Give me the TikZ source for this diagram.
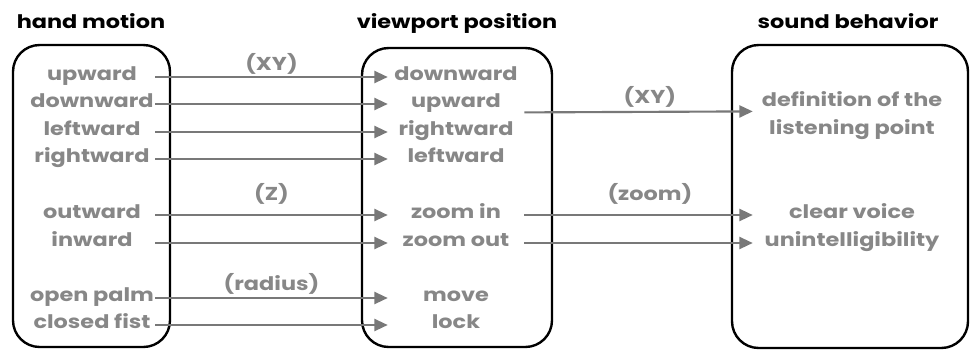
\documentclass[tikz,border=0pt]{standalone}
\usepackage{fontspec}
\setmainfont{Poppins}[FakeStretch=1.2]
\usetikzlibrary{arrows.meta,calc}
\definecolor{txtgray}{HTML}{878787}
\definecolor{arrgray}{HTML}{787878}
\tikzset{
  box/.style={draw=black, line width=1.8pt, rounded corners=20pt, inner sep=0pt},
  ttl/.style={font=\bfseries\fontsize{14}{16}\selectfont, text=black, anchor=base, inner sep=0pt},
  itm/.style={font=\bfseries\fontsize{14}{16}\selectfont, text=txtgray, inner sep=0pt, text height=4.5pt, text depth=0pt},
  lft/.style={itm, minimum width=94.5pt},
  mid/.style={itm, minimum width=102pt},
  rgt/.style={itm, minimum width=148.5pt},
  lab/.style={font=\bfseries\fontsize{14}{16}\selectfont, text=txtgray, anchor=base, inner sep=0pt},
  arr/.style={draw=arrgray, line width=1.6pt, -{Triangle[length=10pt,width=9pt]}},
}
\begin{document}
\begin{tikzpicture}[x=0.75pt,y=-0.75pt]
\useasboundingbox (0,0) rectangle (973,351);
% boxes
\node[box, minimum width=117.75pt, minimum height=226.5pt] (b1) at (91.5,196) {};
\node[box, minimum width=142.5pt, minimum height=224.25pt] (b2) at (457,197.5) {};
\node[box, minimum width=177pt, minimum height=227.25pt] (b3) at (850,196.5) {};
% titles
\node[ttl] (t1) at (91,28) {hand motion};
\node[ttl] (t2) at (457,28) {viewport position};
\node[ttl] (t3) at (848,28) {sound behavior};
% left items
\node[lft] (h1) at (92,77) {upward};
\node[lft] (h2) at (92,104) {downward};
\node[lft] (h3) at (92,132) {leftward};
\node[lft] (h4) at (92,159) {rightward};
\node[lft] (h5) at (92,215) {outward};
\node[lft] (h6) at (92,243) {inward};
\node[lft] (h7) at (92,298) {open palm};
\node[lft] (h8) at (92,325) {closed fist};
% middle items
\node[mid] (v1) at (456,77) {downward};
\node[mid] (v2) at (456,104) {upward};
\node[mid] (v3) at (456,132) {rightward};
\node[mid] (v4) at (456,159) {leftward};
\node[mid] (v5) at (456,215) {zoom in};
\node[mid] (v6) at (456,243) {zoom out};
\node[mid] (v7) at (456,298) {move};
\node[mid] (v8) at (456,325) {lock};
% right items
\node[rgt] (s1) at (852,103) {definition of the};
\node[rgt] (s2) at (852,131) {listening point};
\node[rgt] (s3) at (852,215) {clear voice};
\node[rgt] (s4) at (852,243) {unintelligibility};
% arrows
\draw[arr] (h1.east) -- node[lab, yshift=5.25pt] {(XY)} (v1.west);
\draw[arr] (h2.east) -- (v2.west);
\draw[arr] (h3.east) -- (v3.west);
\draw[arr] (h4.east) -- (v4.west);
\draw[arr] (h5.east) -- node[lab, yshift=11pt] {(Z)} (v5.west);
\draw[arr] (h6.east) -- (v6.west);
\draw[arr] (h7.east) -- node[lab, yshift=6pt] {(radius)} (v7.west);
\draw[arr] (h8.east) -- (v8.west);
\draw[arr] ($(v2.east)!0.3!(v3.east)$) -- node[lab, pos=0.55, yshift=6pt] {(XY)} ($(s1.west)!0.3!(s2.west)$);
\draw[arr] (v5.east) -- node[lab, pos=0.55, yshift=11pt] {(zoom)} (s3.west);
\draw[arr] (v6.east) -- (s4.west);
\end{tikzpicture}
\end{document}
